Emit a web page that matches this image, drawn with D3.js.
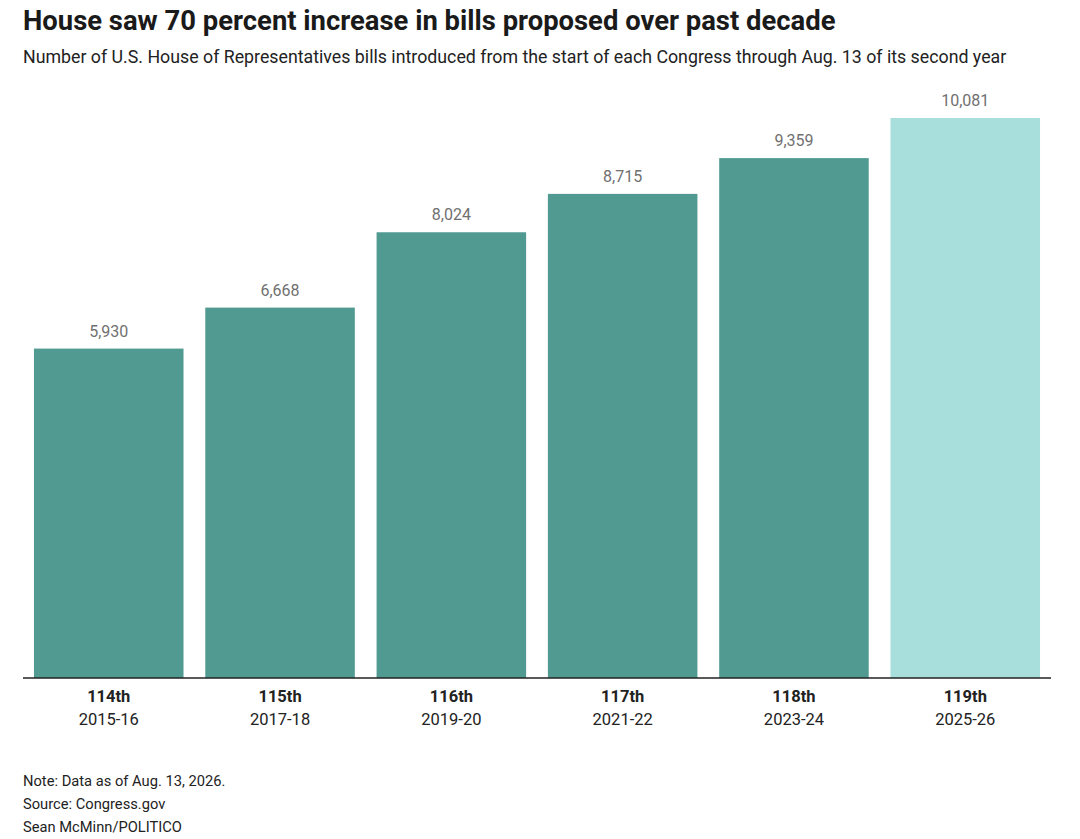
<!DOCTYPE html>
<html>
<head>
<meta charset="utf-8">
<script src="https://cdn.jsdelivr.net/npm/d3@7"></script>
<style>
  html, body { margin: 0; padding: 0; background: #fff; }
  svg text { font-family: Roboto, "Noto Sans", sans-serif; }
</style>
</head>
<body>
<svg id="chart" width="1080" height="839"></svg>
<script>
const congresses = ["114th", "115th", "116th", "117th", "118th", "119th"];
const years = ["2015-16", "2017-18", "2019-20", "2021-22", "2023-24", "2025-26"];
const bills = [5930, 6668, 8024, 8715, 9359, 10081];
const highlight = [false, false, false, false, false, true];

const titleText = "House saw 70 percent increase in bills proposed over past decade";
const subtitleText = "Number of U.S. House of Representatives bills introduced from the start of each Congress through Aug. 13 of its second year";
const notes = ["Note: Data as of Aug. 13, 2026.", "Source: Congress.gov", "Sean McMinn/POLITICO"];

const svg = d3.select("#chart");
const margin = {left: 23, right: 29, top: 118, bottom: 161};
const W = 1080, H = 839;
const baseY = H - margin.bottom;

function fit(sel, target) {
  const len = sel.node().getComputedTextLength();
  if (len > 0) {
    const fs = parseFloat(sel.attr("font-size"));
    sel.attr("font-size", (fs * target / len).toFixed(2));
  }
}

const title = svg.append("text").attr("x", 23).attr("y", 30)
  .attr("font-size", 27).attr("font-weight", 700).attr("fill", "#1a1a1a")
  .text(titleText);
fit(title, 813);

const sub = svg.append("text").attr("x", 23).attr("y", 63)
  .attr("font-size", 17).attr("fill", "#222")
  .text(subtitleText);
fit(sub, 984);

const x = d3.scaleBand().domain(congresses)
  .range([margin.left, W - margin.right])
  .paddingInner(0.127).paddingOuter(0.064);

const y = d3.scaleLinear().domain([0, d3.max(bills)]).range([baseY, margin.top]);

const data = congresses.map((c, i) => ({c, yr: years[i], v: bills[i], h: highlight[i]}));

svg.append("g").selectAll("rect").data(data).join("rect")
  .attr("x", d => x(d.c)).attr("width", x.bandwidth())
  .attr("y", d => y(d.v)).attr("height", d => y(0) - y(d.v))
  .attr("fill", d => d.h ? "#a8dedb" : "#519a92");

svg.append("g").selectAll("text").data(data).join("text")
  .attr("x", d => x(d.c) + x.bandwidth() / 2)
  .attr("y", d => y(d.v) - 12)
  .attr("text-anchor", "middle").attr("font-size", 16).attr("fill", "#707070")
  .text(d => d3.format(",")(d.v));

const axis = svg.append("g").attr("transform", `translate(0,${baseY})`)
  .call(d3.axisBottom(x).tickSize(0).tickPadding(0).tickFormat(() => ""));
axis.select(".domain").attr("stroke", "#222").attr("stroke-width", 1.5)
  .attr("d", `M${margin.left},0H${W - margin.right}`);

const labels = svg.append("g").selectAll("g").data(data).join("g")
  .attr("transform", d => `translate(${x(d.c) + x.bandwidth() / 2},${baseY})`);
labels.append("text").attr("y", 24).attr("text-anchor", "middle")
  .attr("font-size", 16.5).attr("font-weight", 700).attr("fill", "#222").text(d => d.c);
labels.append("text").attr("y", 47).attr("text-anchor", "middle")
  .attr("font-size", 16.5).attr("fill", "#222").text(d => d.yr);

const noteSel = svg.append("g").selectAll("text").data(notes).join("text")
  .attr("x", 23).attr("y", (d, i) => 785.5 + i * 23)
  .attr("font-size", 14.7).attr("fill", "#222").text(d => d);
</script>
</body>
</html>
